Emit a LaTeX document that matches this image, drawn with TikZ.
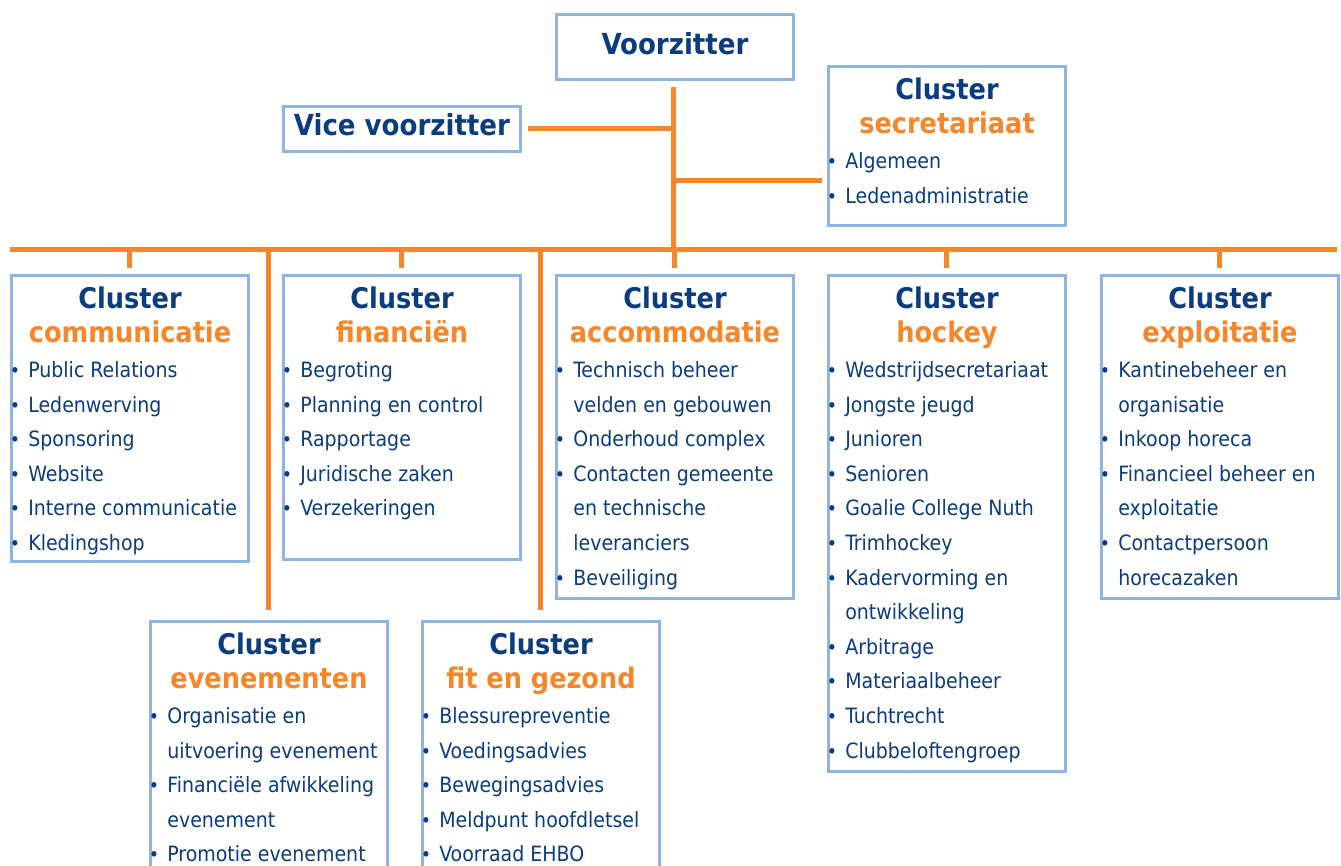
\documentclass[tikz,border=0pt]{standalone}
\usepackage{fontspec}
\setmainfont{DejaVu Sans Condensed}
\usetikzlibrary{positioning}
\definecolor{navy}{HTML}{0B3D7E}
\definecolor{oranje}{HTML}{F5862A}
\definecolor{kaderblauw}{HTML}{8DB4E2}

% cluster: naam, links, boven, onder, titel, regels (1 = met bolletje)
\newcommand{\cluster}[6]{%
  \pgfmathsetmacro{\hoogte}{(#4-#3)*0.02}
  \pgfmathsetmacro{\midx}{#2+120}
  \node (#1) [kader, minimum height=\hoogte cm, anchor=north west] at (#2,-#3) {};
  \node (#1-kop) [kop, text=navy] at (\midx,-#3-34) {Cluster};
  \node (#1-naam) [kop, text=oranje] at (\midx,-#3-68) {#5};
  \foreach \b/\t [count=\i] in {#6} {
    \pgfmathsetmacro{\ly}{#3+103.5+(\i-1)*34.6}
    \ifnum\b=1 \node (#1-p\i) [punt] at (#2+5,-\ly) {•};\fi
    \node (#1-r\i) [regel] at (#2+18,-\ly) {\t};
  }
}

\begin{document}
\begin{tikzpicture}[x=0.02cm, y=0.02cm,
  kader/.style={draw=kaderblauw, line width=0.06cm, fill=white,
    minimum width=4.74cm, inner sep=0pt},
  kop/.style={font=\fontsize{16.2}{18}\selectfont\bfseries, anchor=base, inner sep=0pt},
  regel/.style={font=\fontsize{12}{14}\selectfont, text=navy, anchor=base west, inner sep=0pt},
  punt/.style={font=\fontsize{11}{12}\selectfont, text=navy, anchor=base, inner sep=0pt},
  verbinding/.style={draw=oranje, line width=0.1cm}]
\useasboundingbox (0,0) rectangle (1341,-865);

% bestuur
\node (voorz) [kader, minimum height=1.3cm, anchor=north west] at (555,-13) {};
\node (voorz-t) [kop, text=navy, font=\fontsize{16.5}{18}\selectfont\bfseries] at (675,-55) {Voorzitter};
\node (vice) [kader, minimum height=0.9cm, anchor=north west] at (282,-105) {};
\node (vice-t) [kop, text=navy, font=\fontsize{16.5}{18}\selectfont\bfseries] at (402,-135) {Vice voorzitter};

\cluster{secr}{827}{65}{224}{secretariaat}{1/Algemeen, 1/Ledenadministratie}
\cluster{comm}{10}{274}{560}{communicatie}{1/Public Relations, 1/Ledenwerving, 1/Sponsoring, 1/Website, 1/Interne communicatie, 1/Kledingshop}
\cluster{fin}{282}{274}{558}{financiën}{1/Begroting, 1/Planning en control, 1/Rapportage, 1/Juridische zaken, 1/Verzekeringen}
\cluster{acc}{555}{274}{597}{accommodatie}{1/Technisch beheer, 0/velden en gebouwen, 1/Onderhoud complex, 1/Contacten gemeente, 0/en technische, 0/leveranciers, 1/Beveiliging}
\cluster{hock}{827}{274}{770}{hockey}{1/Wedstrijdsecretariaat, 1/Jongste jeugd, 1/Junioren, 1/Senioren, 1/Goalie College Nuth, 1/Trimhockey, 1/Kadervorming en, 0/ontwikkeling, 1/Arbitrage, 1/Materiaalbeheer, 1/Tuchtrecht, 1/Clubbeloftengroep}
\cluster{expl}{1100}{274}{597}{exploitatie}{1/Kantinebeheer en, 0/organisatie, 1/Inkoop horeca, 1/Financieel beheer en, 0/exploitatie, 1/Contactpersoon, 0/horecazaken}
\cluster{even}{149}{620}{890}{evenementen}{1/Organisatie en, 0/uitvoering evenement, 1/Financiële afwikkeling, 0/evenement, 1/Promotie evenement}
\cluster{fit}{421}{620}{890}{fit en gezond}{1/Blessurepreventie, 1/Voedingsadvies, 1/Bewegingsadvies, 1/Meldpunt hoofdletsel, 1/Voorraad EHBO}

% lijnen
\coordinate (busL) at (10,-249);
\coordinate (busR) at (1337,-249);
\coordinate (knoop) at (673,-249);
\coordinate (sectak) at (673,-180);
\draw[verbinding] (busL) -- (busR);
\draw[verbinding, shorten <=0.12cm] (voorz.south -| knoop) -- (knoop);
\draw[verbinding, shorten <=0.12cm] (vice.east) -- (vice.east -| knoop);
\draw[verbinding, shorten >=0.1cm] (sectak) -- (sectak -| secr.west);
\foreach \c in {comm, fin, acc, hock, expl}
  \draw[verbinding, shorten >=0.12cm] (\c.north |- knoop) -- (\c.north);
\foreach \c in {even, fit}
  \draw[verbinding, shorten >=0.2cm] (\c.north |- knoop) -- (\c.north);
\end{tikzpicture}
\end{document}
